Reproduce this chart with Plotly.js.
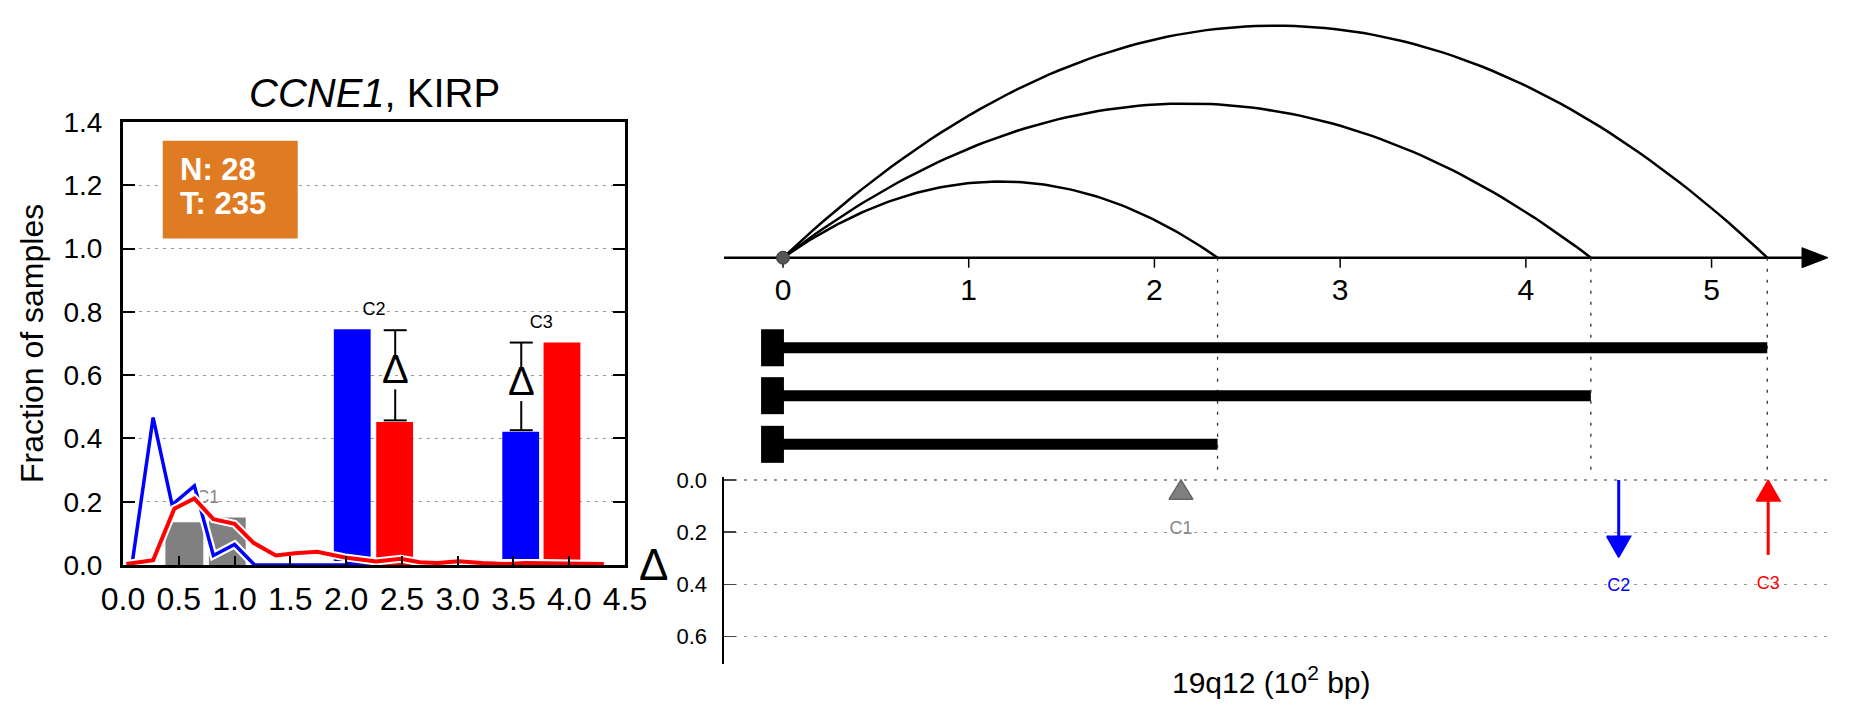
<!DOCTYPE html>
<html><head><meta charset="utf-8">
<script src="https://cdn.plot.ly/plotly-3.0.1.min.js"></script>
<style>html,body{margin:0;padding:0;background:#fff}#chart{width:1851px;height:718px}</style>
</head><body><div id="chart"></div>
<script>
// ---------------- DATA (left panel) ----------------
const redX  = [0.03, 0.27, 0.46, 0.64, 0.81, 1.00, 1.17, 1.37, 1.54, 1.74, 1.99, 2.27, 2.49, 2.66, 2.82, 3.01, 3.22, 3.42, 3.61, 3.77, 3.96, 4.15, 4.31];
const redY  = [0.003, 0.015, 0.178, 0.21, 0.145, 0.13, 0.07, 0.03, 0.037, 0.042, 0.024, 0.011, 0.02, 0.009, 0.006, 0.012, 0.006, 0.003, 0.006, 0.006, 0.003, 0.006, 0.003];
const blueX = [0.086, 0.27, 0.44, 0.64, 0.81, 1.00, 1.18, 1.37, 1.54, 1.74, 1.99];
const blueY = [0.015, 0.466, 0.19, 0.25, 0.03, 0.065, 0.0, 0.0, 0.0, 0.0, 0.0];
const c1BarX = [0.55, 0.935];
const c1BarW = [0.34, 0.33];
const c1BarH = [0.135, 0.15];
const blueBarX = [2.055, 3.565];
const blueBarH = [0.745, 0.421];
const redBarX  = [2.435, 3.935];
const redBarH  = [0.452, 0.703];
const compBarW = 0.33;
const errX  = [2.44, 3.57];
const errLo = [0.457, 0.426];
const errHi = [0.742, 0.703];
const deltaMarkY = [0.615, 0.578];
const clusterNames = ['C1', 'C2', 'C3'];
const leftLabelX = [0.76, 2.25, 3.75];
const leftLabelY = [0.21, 0.805, 0.763];
const nText = 'N: 28';
const tText = 'T: 235';

// ---------------- DATA (right panel) ----------------
const segEnd    = [2.34, 4.35, 5.30];
const arcHeight = [0.41, 0.83, 1.25];
const segRow    = [-1.005, -0.743, -0.485];
const bpTicks   = [0, 1, 2, 3, 4, 5];
const deltaPos  = [2.143, 4.50, 5.305];
const deltaFrom = [0.074, 0.0, 0.287];
const deltaTo   = [0.0, 0.296, 0.0];
const deltaLabelY = [0.191, 0.408, 0.401];
const deltaColors = ['#808080', '#0000FF', '#FF0000'];

// ---------------- geometry helpers ----------------
const W = 1851, H = 718;
const fx = p => p / W;
const fy = p => 1 - p / H;
const PX_X2 = 185.7;   // px per unit on right x axis (and y2)
const PX_Y3 = 261;     // px per unit on lower delta axis
const PX_Y  = 443/1.4; // px per unit on left y axis
const FONT = 'Liberation Sans, Arial, Helvetica, sans-serif';

const traces = [];
traces.push({type:'bar', x:c1BarX, y:c1BarH, width:c1BarW, marker:{color:'#808080', line:{width:0}}, xaxis:'x', yaxis:'y', hoverinfo:'skip'});
traces.push({type:'bar', x:blueBarX, y:blueBarH, width:compBarW, marker:{color:'#0000FF', line:{width:0}}, xaxis:'x', yaxis:'y', hoverinfo:'skip'});
traces.push({type:'bar', x:redBarX, y:redBarH, width:compBarW, marker:{color:'#FF0000', line:{width:0}}, xaxis:'x', yaxis:'y', hoverinfo:'skip'});
traces.push({type:'scatter', mode:'text', x:[leftLabelX[0]], y:[leftLabelY[0]], text:[clusterNames[0]], textfont:{size:18, color:'#888', family:FONT}, xaxis:'x', yaxis:'y', hoverinfo:'skip'});
traces.push({type:'scatter', mode:'lines', x:blueX, y:blueY, line:{color:'white', width:8}, xaxis:'x', yaxis:'y', hoverinfo:'skip'});
traces.push({type:'scatter', mode:'lines', x:blueX, y:blueY, line:{color:'#0000FF', width:3.5}, xaxis:'x', yaxis:'y', hoverinfo:'skip'});
traces.push({type:'scatter', mode:'lines', x:redX, y:redY, line:{color:'white', width:8}, xaxis:'x', yaxis:'y', hoverinfo:'skip'});
traces.push({type:'scatter', mode:'lines', x:redX, y:redY, line:{color:'#FF0000', width:4}, xaxis:'x', yaxis:'y', hoverinfo:'skip'});
// error bars drawn as segments with a gap for the delta symbol
const capHalfL = 11.5 / (502/4.5);
const ebx = [], eby = [];
errX.forEach((x, i) => {
  const d = deltaMarkY[i];
  ebx.push(x, x, null, x, x, null, x-capHalfL, x+capHalfL, null, x-capHalfL, x+capHalfL, null);
  eby.push(errLo[i], d - 19/PX_Y, null, d + 11/PX_Y, errHi[i], null, errLo[i], errLo[i], null, errHi[i], errHi[i], null);
});
traces.push({type:'scatter', mode:'lines', x:ebx, y:eby, line:{color:'black', width:2}, xaxis:'x', yaxis:'y', hoverinfo:'skip'});
traces.push({type:'scatter', mode:'text', x:leftLabelX.slice(1), y:leftLabelY.slice(1), text:clusterNames.slice(1), textfont:{size:18, color:'black', family:FONT}, xaxis:'x', yaxis:'y', hoverinfo:'skip'});

// ---- right panel: arcs (quadratic Bezier / parabola) ----
segEnd.forEach((x1, i) => {
  const x0 = 0, h = arcHeight[i], cx = (x0 + x1) / 2, cyc = 2*h;
  const xs = [], ys = [];
  for (let k = 0; k <= 100; k++) {
    const t = k/100;
    xs.push((1-t)*(1-t)*x0 + 2*t*(1-t)*cx + t*t*x1);
    ys.push(2*t*(1-t)*cyc);
  }
  traces.push({type:'scatter', mode:'lines', x:xs, y:ys, line:{color:'black', width:2.5}, xaxis:'x2', yaxis:'y2', hoverinfo:'skip'});
});
const xMin = -0.3177, xMax = 5.627, headLen = 26/PX_X2, headHalf = 10/PX_X2;
traces.push({type:'scatter', mode:'lines', x:[xMin, xMax-headLen], y:[0,0], line:{color:'black', width:2.5}, xaxis:'x2', yaxis:'y2', hoverinfo:'skip'});
traces.push({type:'scatter', mode:'lines', x:[xMax-headLen, xMax, xMax-headLen, xMax-headLen], y:[headHalf, 0, -headHalf, headHalf], fill:'toself', fillcolor:'black', line:{color:'black', width:1}, xaxis:'x2', yaxis:'y2', hoverinfo:'skip'});
const tkx = [], tky = [];
bpTicks.forEach(t => { tkx.push(t, t, null); tky.push(0, -10/PX_X2, null); });
traces.push({type:'scatter', mode:'lines', x:tkx, y:tky, line:{color:'black', width:1.5}, xaxis:'x2', yaxis:'y2', hoverinfo:'skip'});
traces.push({type:'scatter', mode:'text', x:bpTicks, y:bpTicks.map(()=> -35/PX_X2), text:bpTicks.map(String), textfont:{size:30, color:'black', family:FONT}, xaxis:'x2', yaxis:'y2', hoverinfo:'skip'});
traces.push({type:'scatter', mode:'markers', x:[0], y:[0], marker:{size:13, color:'#555', line:{color:'#333', width:1}}, xaxis:'x2', yaxis:'y2', hoverinfo:'skip'});

// ---- lower delta panel ----
const hw = 12 / PX_X2;
deltaPos.forEach((x, i) => {
  const y0 = deltaFrom[i], y1 = deltaTo[i], col = deltaColors[i];
  const dir = y1 > y0 ? 1 : -1;
  const hl = (i === 0 ? (y0 - y1) : 21/PX_Y3);
  const base = y1 - dir*hl;
  if (i !== 0) {
    traces.push({type:'scatter', mode:'lines', x:[x, x], y:[y0, base], line:{color:col, width:3}, xaxis:'x2', yaxis:'y3', hoverinfo:'skip'});
  }
  traces.push({type:'scatter', mode:'lines', x:[x-hw, x, x+hw, x-hw], y:[base, y1, base, base], fill:'toself', fillcolor:col, line:{color: i===0 ? '#666' : col, width:1.5}, xaxis:'x2', yaxis:'y3', hoverinfo:'skip'});
});
traces.push({type:'scatter', mode:'text', x:deltaPos, y:deltaLabelY, text:clusterNames, textfont:{size:18, color:['#888','#0000FF','#FF0000'], family:FONT}, xaxis:'x2', yaxis:'y3', hoverinfo:'skip'});

// ---- shapes ----
const shapes = [];
shapes.push({type:'rect', xref:'x', yref:'y', x0:0.356, x1:1.566, y0:1.032, y1:1.341, fillcolor:'#DF7B22', line:{width:0}});
const barHalf = 5.5/PX_X2, capHalf = 18.5/PX_X2;
segEnd.forEach((e, i) => {
  shapes.push({type:'rect', xref:'x2', yref:'y2', x0:0, x1:e, y0:segRow[i]-barHalf, y1:segRow[i]+barHalf, fillcolor:'black', line:{width:0}});
  shapes.push({type:'rect', xref:'x2', yref:'y2', x0:-0.118, x1:0.005, y0:segRow[i]-capHalf, y1:segRow[i]+capHalf, fillcolor:'black', line:{width:0}});
  shapes.push({type:'line', xref:'x2', yref:'y2', x0:e, x1:e, y0:0, y1:-1.1432, line:{color:'#333', width:1.3, dash:'3px,8px'}});
});

// ---- annotations ----
const ann = [];
ann.push({xref:'paper', yref:'paper', x:fx(374), y:fy(93), text:'<i>CCNE1</i>, KIRP', showarrow:false, font:{size:40, family:FONT, color:'black'}, xanchor:'center', yanchor:'middle'});
ann.push({xref:'paper', yref:'paper', x:fx(32), y:fy(344), text:'Fraction of samples', textangle:-90, showarrow:false, font:{size:32, family:FONT, color:'black'}, xanchor:'center', yanchor:'middle'});
ann.push({xref:'x', yref:'y', x:0.49, y:1.25, text:nText, showarrow:false, font:{size:31, family:FONT, color:'white', weight:'bold'}, xanchor:'left', yanchor:'middle'});
ann.push({xref:'x', yref:'y', x:0.49, y:1.142, text:tText, showarrow:false, font:{size:31, family:FONT, color:'white', weight:'bold'}, xanchor:'left', yanchor:'middle'});
errX.forEach((x, i) => {
  ann.push({xref:'x', yref:'y', x:x, y:deltaMarkY[i] + 1/PX_Y, text:'Δ', showarrow:false, font:{size:40, family:FONT, color:'black'}, borderpad:0, xanchor:'center', yanchor:'middle'});
});
ann.push({xref:'paper', yref:'paper', x:fx(653.5), y:fy(564), text:'Δ', showarrow:false, font:{size:44, family:FONT, color:'black'}, xanchor:'center', yanchor:'middle'});
ann.push({xref:'paper', yref:'paper', x:fx(1271), y:fy(680), text:'19q12 (10<sup>2</sup> bp)', showarrow:false, font:{size:30, family:FONT, color:'black'}, xanchor:'center', yanchor:'middle'});

const layout = {
  width:W, height:H, margin:{l:0, r:0, t:0, b:0}, showlegend:false, barmode:'overlay',
  paper_bgcolor:'white', plot_bgcolor:'white',
  font:{family:FONT, color:'black'},
  xaxis:{domain:[fx(123), fx(625)], range:[0, 4.5], anchor:'y', tick0:0, dtick:0.5, tickformat:'.1f',
    ticks:'inside', ticklen:9, tickwidth:2, tickcolor:'black', showline:true, linewidth:3, linecolor:'black', mirror:true,
    showgrid:false, zeroline:false, tickfont:{size:32, family:FONT, color:'black'}, ticklabelstandoff:4},
  yaxis:{domain:[fy(565), fy(122)], range:[0, 1.4], anchor:'x', tick0:0, dtick:0.2, tickformat:'.1f',
    ticks:'inside', ticklen:12, tickwidth:2, tickcolor:'black', showline:true, linewidth:3, linecolor:'black', mirror:'ticks',
    showgrid:true, gridcolor:'#999', gridwidth:1.2, griddash:'3px,5px', zeroline:false, tickfont:{size:28, family:FONT, color:'black'}, ticklabelstandoff:12},
  xaxis2:{domain:[fx(724), fx(1828)], range:[xMin, xMax], anchor:'y3', visible:false},
  yaxis2:{domain:[fy(470), 1], range:[-1.1432, 1.3877], anchor:'x2', visible:false},
  yaxis3:{domain:[fy(664), fy(477.4)], range:[0.705, -0.01], anchor:'x2', tickvals:[0, 0.2, 0.4, 0.6], ticktext:['0.0','0.2','0.4','0.6'],
    ticks:'inside', ticklen:12, tickwidth:1.5, tickcolor:'#444', showline:true, linewidth:2.5, linecolor:'black',
    showgrid:true, gridcolor:'#999', gridwidth:1.2, griddash:'3px,7px', zeroline:false, tickfont:{size:22, family:FONT, color:'black'}, ticklabelstandoff:10},
  shapes:shapes, annotations:ann
};
Plotly.newPlot('chart', traces, layout, {staticPlot:true});
</script></body></html>
